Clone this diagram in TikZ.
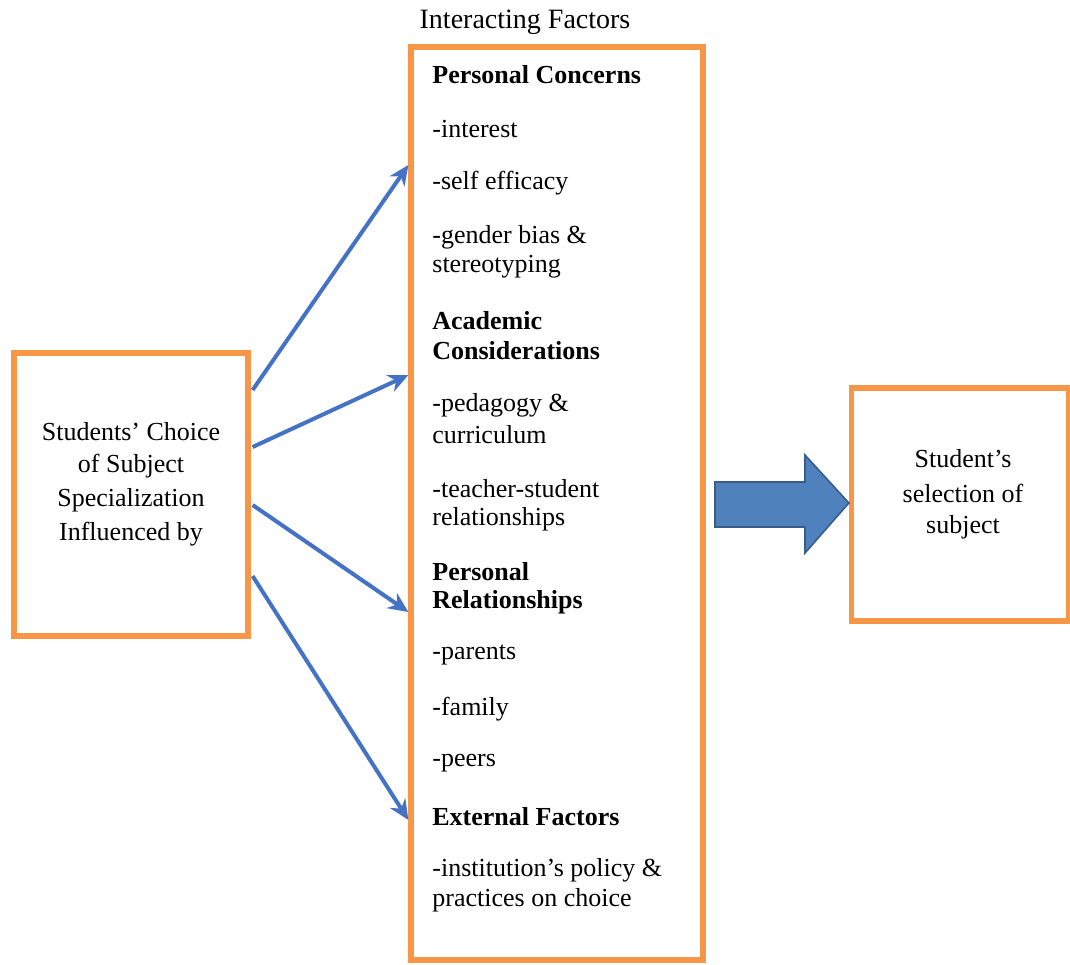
\documentclass[tikz,border=0pt]{standalone}
\usepackage{fontspec}
\setmainfont{Liberation Serif}
\usetikzlibrary{arrows.meta,calc}
\definecolor{orng}{RGB}{247,150,70}
\definecolor{blu}{RGB}{68,114,196}
\definecolor{bfill}{RGB}{79,129,189}
\definecolor{bedge}{RGB}{56,93,138}
\begin{document}
\begin{tikzpicture}[x=0.5pt,y=-0.5pt,
  box/.style={draw=orng,line width=2.6pt,fill=white,inner sep=0pt},
  txt/.style={font=\fontsize{13}{15}\selectfont,inner sep=0pt,anchor=west},
  hd/.style={txt,font=\fontsize{13}{15}\selectfont\bfseries},
  ctr/.style={font=\fontsize{13}{15}\selectfont,inner sep=0pt,anchor=center},
  arr/.style={draw=blu,line width=2pt,-{Stealth[length=10pt,width=9pt]}}]
\useasboundingbox (0,0) rectangle (1070,964);
% boxes
\node[box,minimum width=117pt,minimum height=141.5pt] (L) at (131,494.5) {};
\node[box,minimum width=146pt,minimum height=456.5pt] (M) at (557,503.5) {};
\node[box,minimum width=108.5pt,minimum height=116.5pt] (R) at (960,504.5) {};
% title
\node[ctr,font=\fontsize{14}{16}\selectfont] (title) at (525,22) {Interacting Factors};
% left text
\node[ctr] (l1) at (131,432) {Students’ Choice};
\node[ctr] (l2) at (131,466) {of Subject};
\node[ctr] (l3) at (131,500) {Specialization};
\node[ctr] (l4) at (131,534) {Influenced by};
% right text
\node[ctr] (r1) at (963,459) {Student’s};
\node[ctr] (r2) at (963,493) {selection of};
\node[ctr] (r3) at (963,527) {subject};
% middle text
\node[hd] (m1) at (432,75) {Personal Concerns};
\node[txt] (m2) at (432,129) {-interest};
\node[txt] (m3) at (432,183) {-self efficacy};
\node[txt] (m4) at (432,237) {-gender bias \&};
\node[txt] (m5) at (432,267) {stereotyping};
\node[hd] (m6) at (432,321) {Academic};
\node[hd] (m7) at (432,351) {Considerations};
\node[txt] (m8) at (432,405) {-pedagogy \&};
\node[txt] (m9) at (432,435) {curriculum};
\node[txt] (m10) at (432,489) {-teacher-student};
\node[txt] (m11) at (432,519) {relationships};
\node[hd] (m12) at (432,572) {Personal};
\node[hd] (m13) at (432,602) {Relationships};
\node[txt] (m14) at (432,655) {-parents};
\node[txt] (m15) at (432,709) {-family};
\node[txt] (m16) at (432,763) {-peers};
\node[hd] (m17) at (432,817) {External Factors};
\node[txt] (m18) at (432,870) {-institution’s policy \&};
\node[txt] (m19) at (432,900) {practices on choice};
% connectors
\draw[arr] ($(L.east|-0,390)+(2,0)$) -- (M.west|-0,165);
\draw[arr] ($(L.east|-0,447)+(2,0)$) -- (M.west|-0,375);
\draw[arr] ($(L.east|-0,505)+(2,0)$) -- (M.west|-0,612);
\draw[arr] ($(L.east|-0,576)+(2,0)$) -- (M.west|-0,820);
% block arrow
\coordinate (ba) at (715,482);
\coordinate (tip) at (R.west|-0,503);
\draw[fill=bfill,draw=bedge,line width=0.8pt,line join=miter]
  (ba) -- (805,482) -- (805,455) -- (tip) -- (805,553) -- (805,527) -- (715,527) -- cycle;
\end{tikzpicture}
\end{document}
